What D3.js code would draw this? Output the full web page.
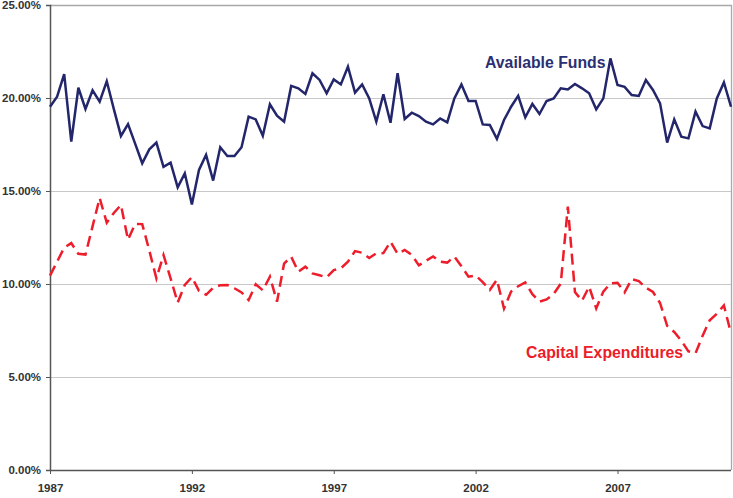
<!DOCTYPE html>
<html><head><meta charset="utf-8">
<script src="https://cdn.jsdelivr.net/npm/d3@7"></script>
<style>
html,body{margin:0;padding:0;background:#fff;}
svg{display:block;font-family:"Liberation Sans",Arial,sans-serif;}
</style></head>
<body><svg id="c" width="733" height="498"></svg>
<script>
const startYear = 1987;
const availableFunds = [19.53,20.07,21.29,17.65,20.55,19.41,20.41,19.8,20.9,19.4,17.96,18.6,17.55,16.49,17.24,17.6,16.3,16.52,15.2,15.95,14.28,16.13,16.94,15.56,17.35,16.88,16.88,17.35,19.0,18.85,17.97,19.66,19.05,18.73,20.65,20.52,20.22,21.33,20.97,20.25,21.0,20.73,21.68,20.29,20.73,19.98,18.73,20.2,18.67,21.33,18.87,19.21,19.03,18.73,18.58,18.9,18.69,19.98,20.73,19.84,19.84,18.58,18.55,17.8,18.82,19.53,20.12,18.96,19.68,19.14,19.84,19.98,20.52,20.46,20.75,20.52,20.25,19.39,19.98,22.13,20.7,20.6,20.16,20.11,20.97,20.43,19.71,17.6,18.85,17.92,17.83,19.27,18.49,18.37,19.98,20.84,19.53];
const capitalExpenditures = [10.45,11.2,11.95,12.2,11.62,11.58,13.1,14.62,13.3,13.82,14.25,12.38,13.23,13.22,11.8,10.3,11.56,10.3,9.0,9.95,10.37,9.63,9.42,9.8,9.93,9.95,9.77,9.55,9.14,9.98,9.66,10.4,9.05,11.1,11.47,10.66,10.93,10.57,10.47,10.36,10.75,10.84,11.2,11.77,11.68,11.4,11.65,11.66,12.27,11.62,11.83,11.56,11.0,11.25,11.48,11.2,11.15,11.48,10.95,10.39,10.46,10.1,9.68,10.23,8.68,9.59,9.88,10.08,9.45,9.05,9.17,9.46,10.02,14.16,9.57,9.1,9.86,8.69,9.59,10.03,10.07,9.55,10.26,10.16,9.8,9.57,8.98,7.75,7.42,6.95,6.38,6.28,7.22,8.05,8.4,8.85,7.35];
const yTicks = [0,5,10,15,20,25];
const xTicks = [1987,1992,1997,2002,2007];
const seriesLabels = ["Available Funds","Capital Expenditures"];

const svg = d3.select("#c");
const L = 50, R = 731, T = 5, B = 470;
const x = d3.scaleLinear().domain([1987, 2011]).range([L, R]);
const y = d3.scaleLinear().domain([0, 25]).range([B, T]);

// gridlines
svg.append("g").selectAll("line").data(yTicks.filter(d=>d>0 && d<25)).join("line")
  .attr("x1", L).attr("x2", R).attr("y1", d=>y(d)+0.5).attr("y2", d=>y(d)+0.5)
  .attr("stroke", "#c8c8c8").attr("stroke-width", 1);
// top and right border
svg.append("path").attr("d", `M${L},${T+0.5}H${R+0.5}V${B}`)
  .attr("fill","none").attr("stroke", "#a8a8a8").attr("stroke-width", 1.3);

// y axis
const yAxis = svg.append("g").attr("transform", `translate(${L},0)`)
  .call(d3.axisLeft(y).tickValues(yTicks).tickSize(4).tickPadding(5).tickFormat(d => d3.format(".2f")(d) + "%"));
yAxis.select(".domain").attr("stroke", "#555").attr("stroke-width", 1.5);
yAxis.selectAll(".tick line").attr("stroke", "#555");
yAxis.selectAll("text").attr("font-size", 11.5).attr("font-weight", "bold").attr("fill", "#333")
  .attr("font-family", "Liberation Sans, Arial, sans-serif");

// x axis
const xAxis = svg.append("g").attr("transform", `translate(0,${B})`)
  .call(d3.axisBottom(x).tickValues(xTicks).tickSize(4).tickPadding(10).tickFormat(d3.format("d")));
xAxis.select(".domain").attr("stroke", "#555").attr("stroke-width", 1.5).attr("d", `M${L},0.5H${R}`);
xAxis.selectAll(".tick line").attr("stroke", "#555");
xAxis.selectAll("text").attr("font-size", 11.5).attr("font-weight", "bold").attr("fill", "#333")
  .attr("font-family", "Liberation Sans, Arial, sans-serif");

const line = d3.line().x((d,i)=>x(startYear + i/4)).y(d=>y(d));

svg.append("path").datum(availableFunds).attr("d", line)
  .attr("fill","none").attr("stroke","#23266b").attr("stroke-width",2.5).attr("stroke-linejoin","miter");
svg.append("path").datum(capitalExpenditures).attr("d", line)
  .attr("fill","none").attr("stroke","#ee1d2b").attr("stroke-width",2.5).attr("stroke-dasharray","11,6");

svg.append("text").attr("x", 485).attr("y", 68).text(seriesLabels[0])
  .attr("font-size", 15.8).attr("font-weight","bold").attr("fill","#2b2f73");
svg.append("text").attr("x", 526).attr("y", 358).text(seriesLabels[1])
  .attr("font-size", 15.8).attr("font-weight","bold").attr("fill","#ec1c2a");
</script></body></html>
